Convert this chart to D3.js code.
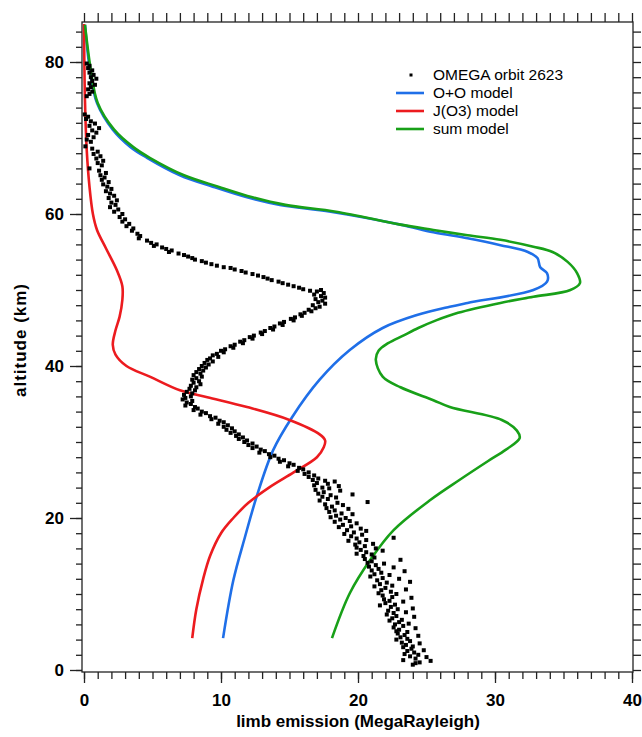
<!DOCTYPE html>
<html>
<head>
<meta charset="utf-8">
<script src="https://cdn.jsdelivr.net/npm/d3@7"></script>
<style>
  body { margin: 0; background: #fff; }
  svg text { font-family: "Liberation Sans", Arial, sans-serif; }
</style>
</head>
<body>
<div id="chart"></div>
<script>
// ---- data ----
// altitude (km) / emission (MR) pairs for each model
const ooAlt = [4.2, 11.8, 17.5, 22.8, 28.9, 33.3, 38.2, 42.1, 45, 46.7, 47.8, 48.3, 50, 51.1, 52.2, 53, 54.2, 55, 55.9, 56.8, 57.6, 58.6, 60.3, 61.2, 62.2, 63.6, 65.1, 67.4, 68.8, 71.1, 74.6, 78.9, 84.9];
const ooVal = [10.15, 10.9, 11.75, 12.6, 13.8, 15.2, 17.2, 19.4, 21.8, 24.3, 26.7, 28.0, 32.8, 33.8, 33.8, 33.3, 33.1, 32.4, 30.4, 28.0, 25.5, 23.1, 18.0, 14.3, 11.9, 9.4, 7.0, 4.6, 3.4, 2.1, 0.95, 0.44, 0.07];

const jo3Alt = [4.2, 8, 12, 15, 18, 20, 22, 24, 26, 28, 29.3, 30.2, 31, 32.9, 34.6, 35.9, 36.8, 38.6, 40, 41.5, 42.8, 44.7, 46.5, 48.7, 50.5, 52.6, 55.5, 57.9, 60, 63.6, 68.4, 75, 85];
const jo3Val = [7.9, 8.2, 8.7, 9.2, 10.0, 10.9, 12.0, 13.5, 15.3, 17.0, 17.5, 17.6, 17.2, 15.0, 11.9, 9.0, 7.0, 4.8, 3.1, 2.3, 2.1, 2.3, 2.6, 2.8, 2.8, 2.4, 1.6, 0.95, 0.65, 0.4, 0.2, 0.07, 0.0];

const sumAlt = [4.2, 10.1, 14.5, 18.4, 22.4, 25, 27.5, 29, 30.5, 31.5, 32.9, 34.6, 35.5, 37.2, 38.6, 40.8, 42, 43, 44, 45, 46, 47, 48.3, 49.1, 50, 50.9, 52.2, 53.7, 55, 55.7, 56.6, 57.2, 57.9, 58.6, 60.3, 61.2, 62.2, 63.6, 65.1, 67.4, 68.8, 71.1, 74.6, 78.9, 84.9];
const sumVal = [18.1, 19.4, 20.9, 22.6, 25.3, 27.4, 29.5, 30.8, 31.8, 31.6, 30.5, 26.7, 25.5, 23.1, 21.8, 21.3, 21.5, 22.2, 23.3, 24.4, 25.7, 27.3, 30.4, 32.8, 35.5, 36.2, 36.0, 35.3, 34.2, 32.8, 30.4, 28.0, 25.5, 23.1, 18.4, 14.7, 12.3, 9.8, 7.3, 4.8, 3.6, 2.2, 1.0, 0.5, 0.07];

// OMEGA orbit 2623 measurements: [altitude, emission]
const omegaPoints = [
  [79.8,0.2],[79.5,0.4],[79.2,0.3],[78.9,0.6],[78.6,0.4],[78.3,0.7],[78.0,0.5],[77.8,0.9],[77.5,0.6],[77.2,0.4],[77.0,0.8],[76.7,0.5],[76.4,0.3],[76.1,0.6],[75.8,0.4],[75.5,0.2],
  [73.1,0.05],[72.8,0.3],[72.5,0.15],[72.2,0.5],[71.9,0.8],[71.6,0.4],[71.3,1.1],[71.0,0.6],[70.7,0.9],[70.4,0.3],[70.1,0.7],[69.8,0.2],[69.5,0.5],
  [68.9,0.1],[68.6,0.6],[68.2,1.0],[67.9,0.7],[67.6,1.2],[67.3,0.9],[67.0,1.4],[66.7,1.0],[66.4,1.3],[66.0,0.4],[65.7,1.1],[65.4,1.6],
  [65.1,1.2],[64.8,1.5],[64.5,1.3],[64.2,1.8],[63.9,1.4],[63.6,1.7],[63.3,2.0],[63.0,1.6],[62.7,1.9],[62.4,2.2],[62.1,1.8],[61.8,2.4],[61.5,2.0],[61.2,2.3],[60.9,1.9],[60.6,2.5],[60.3,2.2],[60.0,2.8],
  [59.6,2.6],[59.3,3.0],[59.0,2.8],[58.7,3.3],[58.4,3.1],[58.1,3.6],[57.8,3.5],[57.4,3.9],[57.1,4.1],[56.8,4.0],[56.5,4.6],
  [56.2,4.9],[56.0,5.3],[55.8,5.1],[55.6,5.7],[55.4,6.0],[55.2,6.4],[55.0,6.2],[54.8,6.9],[54.6,7.3],
  [54.4,7.6],[54.2,7.9],[54.0,8.1],[53.8,8.6],[53.6,8.9],[53.4,9.3],[53.2,9.7],[53.0,10.2],[52.9,10.7],
  [52.7,11.0],[52.5,11.5],[52.3,11.8],[52.1,12.3],[51.9,12.7],[51.7,13.1],[51.5,13.4],[51.3,13.7],[51.1,14.2],[50.9,14.5],[50.7,14.9],[50.5,15.3],[50.3,15.7],[50.1,16.0],[49.9,16.5],
  [50.0,17.3],[49.8,17.0],[49.6,17.5],[49.4,16.8],[49.2,17.3],[49.0,17.6],[48.8,16.9],[48.6,17.4],[48.4,17.1],[48.2,17.6],[48.0,16.7],[47.8,17.2],[47.6,16.9],[47.4,16.4],
  [47.2,16.6],[47.0,16.1],[46.8,15.8],[46.6,15.9],[46.4,15.4],[46.2,15.1],[46.0,15.3],[45.8,14.6],[45.6,14.3],[45.4,14.5],[45.2,13.9],[45.0,13.6],[44.8,13.8],[44.6,13.2],[44.4,12.9],[44.2,13.0],[44.0,12.4],[43.8,12.1],[43.6,12.3],[43.4,11.7],[43.2,11.4],[43.0,11.6],[42.8,11.0],[42.6,10.7],[42.4,10.9],[42.2,10.3],[42.0,10.0],[41.8,10.2],[41.6,9.7],[41.4,9.4],[41.2,9.8],[41.0,9.2],[40.8,9.0],[40.6,9.4],[40.4,8.8],[40.2,9.1],[40.0,8.6],
  [39.8,8.9],[39.6,8.4],[39.4,8.7],[39.2,8.2],[39.0,8.5],[38.8,8.0],[38.6,8.6],[38.4,8.2],[38.2,7.9],[38.0,8.4],[37.8,8.0],[37.6,8.5],[37.4,7.8],[37.2,8.2],[37.0,7.7],[36.8,8.1],[36.6,7.5],[36.4,7.9],[36.2,7.3],[36.0,7.8],[35.8,7.4],[35.6,7.2],[35.4,7.9],[35.2,7.5],[35.0,7.8],[34.8,7.4],[34.6,8.1],
  [34.4,8.3],[34.2,8.0],[34.0,8.6],[33.8,8.9],[33.6,8.5],[33.4,9.2],[33.2,9.6],[33.0,9.3],[32.8,9.9],[32.6,10.2],[32.4,9.8],[32.2,10.5],[32.0,10.2],[31.8,10.8],[31.6,10.4],[31.4,11.0],[31.2,10.7],[31.0,11.3],[30.8,11.1],[30.6,11.6],[30.4,11.3],[30.2,11.9],[30.0,11.7],[29.8,12.3],[29.6,12.0],[29.4,12.6],[29.2,12.3],[29.0,12.9],[28.8,13.2],[28.6,12.8],[28.4,13.5],[28.2,13.9],[28.0,13.6],[27.8,14.2],[27.6,14.6],[27.4,14.3],[27.2,15.0],[27.0,15.3],[26.8,14.9],[26.6,15.7],[26.4,16.0],[26.2,15.6],[26.0,16.4],[25.8,16.1],[25.6,16.8],[25.4,16.4],[25.2,17.1],
  [25.0,16.7],[24.9,17.6],[24.8,18.3],[24.6,17.0],[24.5,17.8],[24.3,16.8],[24.2,18.6],[24.0,17.4],[23.9,17.9],[23.7,16.9],[23.6,18.7],[23.4,17.5],[23.2,17.1],[23.1,19.6],[23.0,18.0],[22.8,17.4],[22.7,18.4],[22.5,17.8],[22.3,17.2],[22.1,20.7],[22.0,18.5],[21.8,17.6],[21.7,18.9],[21.5,18.1],[21.3,17.7],[21.2,19.3],[21.0,18.3],[20.8,17.9],[20.6,18.8],[20.5,19.6],[20.3,18.4],[20.1,18.0],[20.0,19.1],
  [19.8,18.7],[19.6,19.4],[19.5,18.3],[19.3,19.9],[19.1,18.9],[18.9,19.5],[18.8,18.6],[18.6,20.2],[18.4,19.2],[18.3,20.6],[18.1,19.7],[17.9,19.0],[17.8,20.3],[17.6,19.5],[17.4,22.6],[17.3,19.9],[17.1,20.6],[17.0,19.3],[16.8,20.1],[16.6,21.1],[16.5,19.8],[16.3,20.5],[16.1,19.9],[16.0,21.3],[15.8,20.2],[15.7,21.8],[15.5,20.6],[15.3,19.9],[15.2,21.0],[15.0,20.4],
  [14.8,21.2],[14.6,20.5],[14.5,23.1],[14.3,21.0],[14.1,20.7],[14.0,21.9],[13.8,21.3],[13.6,20.8],[13.5,22.6],[13.3,21.5],[13.1,21.0],[13.0,23.4],[12.8,21.7],[12.6,21.2],[12.5,22.3],[12.3,20.9],[12.1,21.8],[12.0,23.0],[11.8,21.4],[11.6,23.8],[11.5,22.1],[11.3,21.6],[11.1,22.5],[11.0,21.2],[10.8,22.0],[10.6,23.5],[10.5,21.7],[10.3,22.4],[10.1,21.5],[10.0,22.8],
  [9.8,21.8],[9.6,22.5],[9.5,23.9],[9.3,21.9],[9.1,22.3],[9.0,23.3],[8.8,22.0],[8.6,22.7],[8.5,21.6],[8.3,22.4],[8.1,24.0],[8.0,22.9],[7.8,22.2],[7.6,23.5],[7.5,22.6],[7.3,22.1],[7.1,22.8],[7.0,24.1],[6.8,22.5],[6.6,23.2],[6.5,22.3],[6.3,23.0],[6.1,23.7],[6.0,22.7],[5.8,23.3],[5.6,22.6],[5.5,24.2],[5.3,23.0],[5.1,22.8],[5.0,23.6],
  [4.8,22.9],[4.6,23.4],[4.5,24.4],[4.3,23.1],[4.1,23.6],[4.0,22.8],[3.8,23.8],[3.6,23.2],[3.5,24.5],[3.3,23.5],[3.1,24.0],[3.0,23.3],[2.8,23.9],[2.6,24.8],[2.5,23.6],[2.3,24.1],[2.1,23.4],[2.0,24.4],[1.8,23.8],[1.7,25.0],[1.5,24.2],[1.3,23.3],[1.2,25.3],[1.0,24.5],[0.9,24.2],[0.7,24.0]
];

const xMajorTicks = [0, 10, 20, 30, 40];
const yMajorTicks = [0, 20, 40, 60, 80];
const legendLabels = ["OMEGA orbit 2623", "O+O model", "J(O3) model", "sum model"];

// ---- layout ----
const width = 642, height = 737;
const frame = {left: 82, right: 633, top: 22, bottom: 672};
const colors = {oo: "#1f6fe8", jo3: "#ec1b1f", sum: "#18a018"};

const svg = d3.select("#chart").append("svg")
    .attr("width", width)
    .attr("height", height);

const x = d3.scaleLinear().domain([0, 40]).range([84, 632]);
const y = d3.scaleLinear().domain([0, 80]).range([670, 62]);

// frame
svg.append("rect")
    .attr("x", frame.left).attr("y", frame.top)
    .attr("width", frame.right - frame.left)
    .attr("height", frame.bottom - frame.top)
    .attr("fill", "none")
    .attr("stroke", "#222")
    .attr("stroke-width", 1.3);

function styleAxis(g) {
    g.select(".domain").remove();
    g.selectAll(".tick line").attr("stroke", "#222").attr("stroke-width", 1.3);
    g.selectAll(".tick text")
        .attr("fill", "#000")
        .style("font-size", "17px")
        .style("font-weight", "bold");
}

const yMinor = d3.range(0, 85, 2);
const xMinor = d3.range(0, 41, 1);

// left axis
svg.append("g").attr("transform", `translate(${frame.left},0)`)
    .call(d3.axisLeft(y).tickValues(yMinor).tickSize(6).tickFormat(""))
    .call(styleAxis);
svg.append("g").attr("transform", `translate(${frame.left},0)`)
    .call(d3.axisLeft(y).tickValues(yMajorTicks).tickSize(12).tickPadding(6))
    .call(styleAxis);

// right mirror
svg.append("g").attr("transform", `translate(${frame.right},0)`)
    .call(d3.axisRight(y).tickValues(yMinor).tickSize(8).tickFormat(""))
    .call(styleAxis);

// bottom axis
svg.append("g").attr("transform", `translate(0,${frame.bottom})`)
    .call(d3.axisBottom(x).tickValues(xMinor).tickSize(7).tickFormat(""))
    .call(styleAxis);
svg.append("g").attr("transform", `translate(0,${frame.bottom})`)
    .call(d3.axisBottom(x).tickValues(xMajorTicks).tickSize(11).tickPadding(11))
    .call(styleAxis);

// top mirror
svg.append("g").attr("transform", `translate(0,${frame.top})`)
    .call(d3.axisTop(x).tickValues(xMinor).tickSize(9).tickFormat(""))
    .call(styleAxis);

// axis titles
svg.append("text")
    .attr("transform", `translate(26,340) rotate(-90)`)
    .attr("text-anchor", "middle")
    .style("font-size", "17px")
    .style("font-weight", "bold")
    .style("letter-spacing", "1px")
    .text("altitude (km)");

svg.append("text")
    .attr("x", 358).attr("y", 727)
    .attr("text-anchor", "middle")
    .style("font-size", "17px")
    .style("font-weight", "bold")
    .text("limb emission (MegaRayleigh)");

// model curves
const line = d3.line()
    .x(d => x(d[1]))
    .y(d => y(d[0]))
    .curve(d3.curveCatmullRom.alpha(0.5));

const models = [
    {alt: ooAlt, val: ooVal, color: colors.oo},
    {alt: jo3Alt, val: jo3Val, color: colors.jo3},
    {alt: sumAlt, val: sumVal, color: colors.sum}
];

models.forEach(m => {
    svg.append("path")
        .datum(m.alt.map((a, i) => [a, m.val[i]]))
        .attr("d", line)
        .attr("fill", "none")
        .attr("stroke", m.color)
        .attr("stroke-width", 2.6)
        .attr("stroke-linejoin", "round");
});

// OMEGA points
svg.append("g").selectAll("rect")
    .data(omegaPoints)
    .join("rect")
    .attr("x", d => x(d[1]) - 2)
    .attr("y", d => y(d[0]) - 2)
    .attr("width", 4)
    .attr("height", 4)
    .attr("fill", "#000");

// legend
const legend = svg.append("g").attr("transform", "translate(396,80)");
const legendColors = [null, colors.oo, colors.jo3, colors.sum];
legendLabels.forEach((label, i) => {
    const row = legend.append("g").attr("transform", `translate(0,${i * 18})`);
    if (i === 0) {
        row.append("rect").attr("x", 13.5).attr("y", -6.5).attr("width", 3).attr("height", 3).attr("fill", "#000");
    } else {
        row.append("line")
            .attr("x1", 0).attr("x2", 28)
            .attr("y1", -5).attr("y2", -5)
            .attr("stroke", legendColors[i])
            .attr("stroke-width", 2.6);
    }
    row.append("text")
        .attr("x", 37).attr("y", 0)
        .style("font-size", "15.5px")
        .attr("fill", "#000")
        .text(label);
});
</script>
</body>
</html>
